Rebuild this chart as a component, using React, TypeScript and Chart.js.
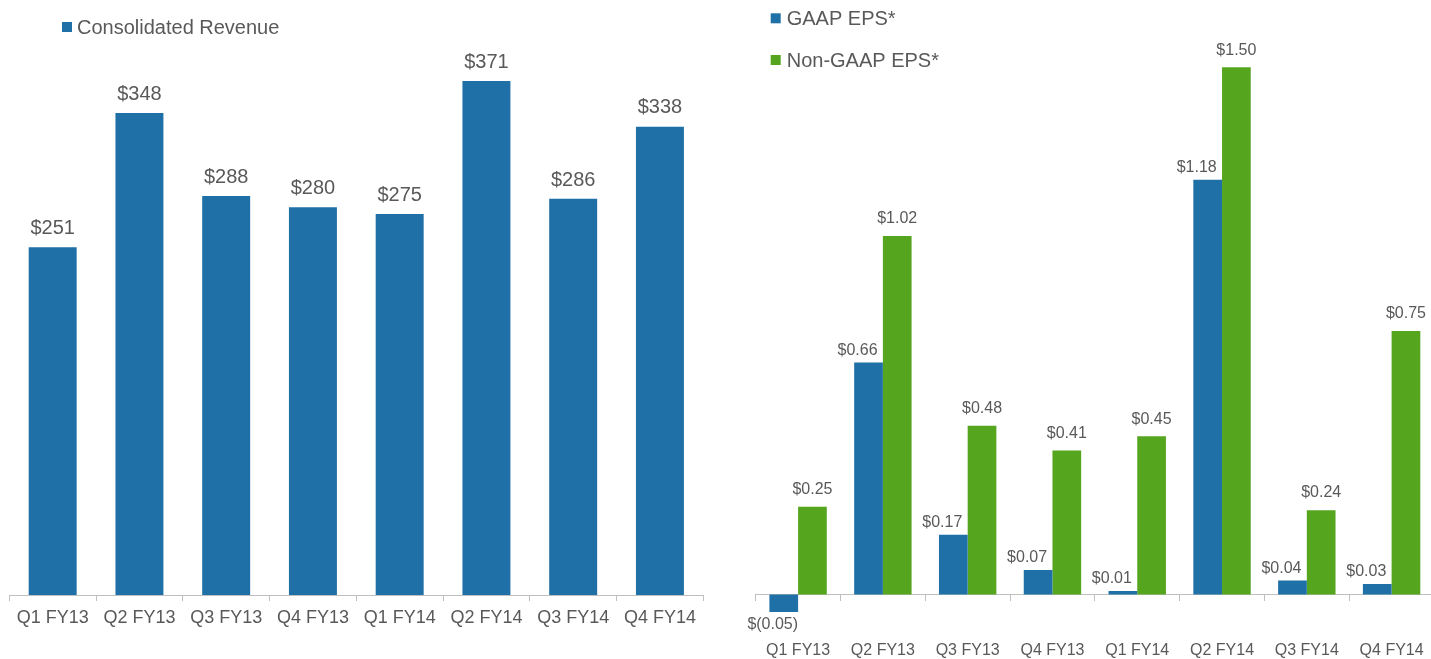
import { useEffect, useRef } from 'react';
import { Chart, registerables } from 'chart.js';

Chart.register(...registerables);

const categories = ['Q1 FY13', 'Q2 FY13', 'Q3 FY13', 'Q4 FY13', 'Q1 FY14', 'Q2 FY14', 'Q3 FY14', 'Q4 FY14'];
const revenue = [251, 348, 288, 280, 275, 371, 286, 338];
const gaapEps = [-0.05, 0.66, 0.17, 0.07, 0.01, 1.18, 0.04, 0.03];
const nonGaapEps = [0.25, 1.02, 0.48, 0.41, 0.45, 1.5, 0.24, 0.75];

const revenueLabel = 'Consolidated Revenue';
const gaapLabel = 'GAAP EPS*';
const nonGaapLabel = 'Non-GAAP EPS*';

const BLUE = '#1f70a6';
const GREEN = '#55a51f';
const TEXT = '#595959';
const AXIS = '#bfbfbf';
const FONT = "'Liberation Sans', Arial, sans-serif";

const fmtRevenue = (v: number) => `$${v}`;
const fmtEps = (v: number) => (v < 0 ? `$(${Math.abs(v).toFixed(2)})` : `$${v.toFixed(2)}`);

// Draws value labels above/below bars
const valueLabelPlugin = {
  id: 'valueLabels',
  afterDatasetsDraw(chart: any, _args: any, opts: any) {
    const ctx = chart.ctx;
    ctx.save();
    ctx.font = `${opts.size}px ${FONT}`;
    ctx.fillStyle = TEXT;
    ctx.textAlign = 'center';
    ctx.textBaseline = 'alphabetic';
    chart.data.datasets.forEach((ds: any, di: number) => {
      const meta = chart.getDatasetMeta(di);
      const dx = (opts.dx && opts.dx[di]) || 0;
      const above = Array.isArray(opts.above) ? opts.above[di] : opts.above;
      meta.data.forEach((el: any, i: number) => {
        const v = ds.data[i];
        const txt = opts.format(v);
        if (v < 0) {
          ctx.fillText(txt, el.x + dx, el.y + opts.below);
        } else {
          ctx.fillText(txt, el.x + dx, el.y - above);
        }
      });
    });
    ctx.restore();
  },
};

// Draws a custom (vertical) legend
const customLegendPlugin = {
  id: 'customLegend',
  afterDraw(chart: any, _args: any, opts: any) {
    const ctx = chart.ctx;
    ctx.save();
    ctx.font = `${opts.size}px ${FONT}`;
    ctx.textAlign = 'left';
    ctx.textBaseline = 'alphabetic';
    chart.data.datasets.forEach((ds: any, di: number) => {
      const y = opts.y + di * opts.rowGap;
      ctx.fillStyle = ds.backgroundColor;
      ctx.fillRect(opts.x, y, opts.box, opts.box);
      ctx.fillStyle = TEXT;
      ctx.fillText(ds.label, opts.x + opts.box + opts.gap, y + opts.baseline);
    });
    ctx.restore();
  },
};

function RevenueChart() {
  const ref = useRef<HTMLCanvasElement | null>(null);
  useEffect(() => {
    if (!ref.current) return;
    const chart = new Chart(ref.current, {
      type: 'bar',
      data: {
        labels: categories,
        datasets: [
          {
            label: revenueLabel,
            data: revenue,
            backgroundColor: BLUE,
            borderWidth: 0,
            categoryPercentage: 0.553,
            barPercentage: 1,
          },
        ],
      },
      options: {
        responsive: false,
        animation: false,
        layout: { padding: { left: 9.3, right: 11.7, top: 40.9, bottom: 0 } },
        scales: {
          x: {
            grid: { display: true, drawOnChartArea: false, tickLength: 6, color: AXIS },
            border: { color: AXIS, width: 1 },
            ticks: { color: TEXT, font: { size: 18, family: FONT }, padding: 6.5, maxRotation: 0, autoSkip: false },
            afterFit: (s: any) => {
              s.height = 64;
            },
          },
          y: { display: false, min: 0, max: 400 },
        },
        plugins: {
          legend: { display: false },
          tooltip: { enabled: false },
          valueLabels: { size: 20, above: 13.3, below: 20, format: fmtRevenue },
          customLegend: { x: 62, y: 22, box: 10, gap: 5, size: 20, baseline: 12, rowGap: 41 },
        } as any,
      },
      plugins: [valueLabelPlugin, customLegendPlugin],
    });
    return () => chart.destroy();
  }, []);
  return (
    <canvas
      ref={ref}
      width={715}
      height={659}
      style={{ position: 'absolute', left: 0, top: 0, width: 715, height: 659 }}
    />
  );
}

function EpsChart() {
  const ref = useRef<HTMLCanvasElement | null>(null);
  useEffect(() => {
    if (!ref.current) return;
    const chart = new Chart(ref.current, {
      type: 'bar',
      data: {
        labels: categories,
        datasets: [
          {
            label: gaapLabel,
            data: gaapEps,
            backgroundColor: BLUE,
            borderWidth: 0,
            categoryPercentage: 0.677,
            barPercentage: 1,
          },
          {
            label: nonGaapLabel,
            data: nonGaapEps,
            backgroundColor: GREEN,
            borderWidth: 0,
            categoryPercentage: 0.677,
            barPercentage: 1,
          },
        ],
      },
      options: {
        responsive: false,
        animation: false,
        layout: { padding: { left: 15.7, right: 21, top: 32.1, bottom: 29.35 } },
        scales: {
          x: {
            position: { y: 0 } as any,
            grid: { display: true, drawOnChartArea: false, tickLength: 6, color: AXIS },
            border: { color: AXIS, width: 1 },
            ticks: {
              color: TEXT,
              font: { size: 16, family: FONT, lineHeight: '89px' },
              padding: 6,
              maxRotation: 0,
              autoSkip: false,
            },
          },
          y: { display: false, min: -0.1, max: 1.6 },
        },
        plugins: {
          legend: { display: false },
          tooltip: { enabled: false },
          valueLabels: { size: 16, above: [7.7, 12.7], below: 17, format: fmtEps, dx: [-11, 0] },
          customLegend: { x: 30.7, y: 13.3, box: 10, gap: 6, size: 20, baseline: 11.7, rowGap: 41.7 },
        } as any,
      },
      plugins: [valueLabelPlugin, customLegendPlugin],
    });
    return () => chart.destroy();
  }, []);
  return (
    <canvas
      ref={ref}
      width={715}
      height={659}
      style={{ position: 'absolute', left: 740, top: 0, width: 715, height: 659 }}
    />
  );
}

export default function App() {
  return (
    <div
      style={{
        position: 'fixed',
        left: 0,
        top: 0,
        width: 1431,
        height: 659,
        overflow: 'hidden',
        background: '#ffffff',
      }}
    >
      <RevenueChart />
      <EpsChart />
    </div>
  );
}
